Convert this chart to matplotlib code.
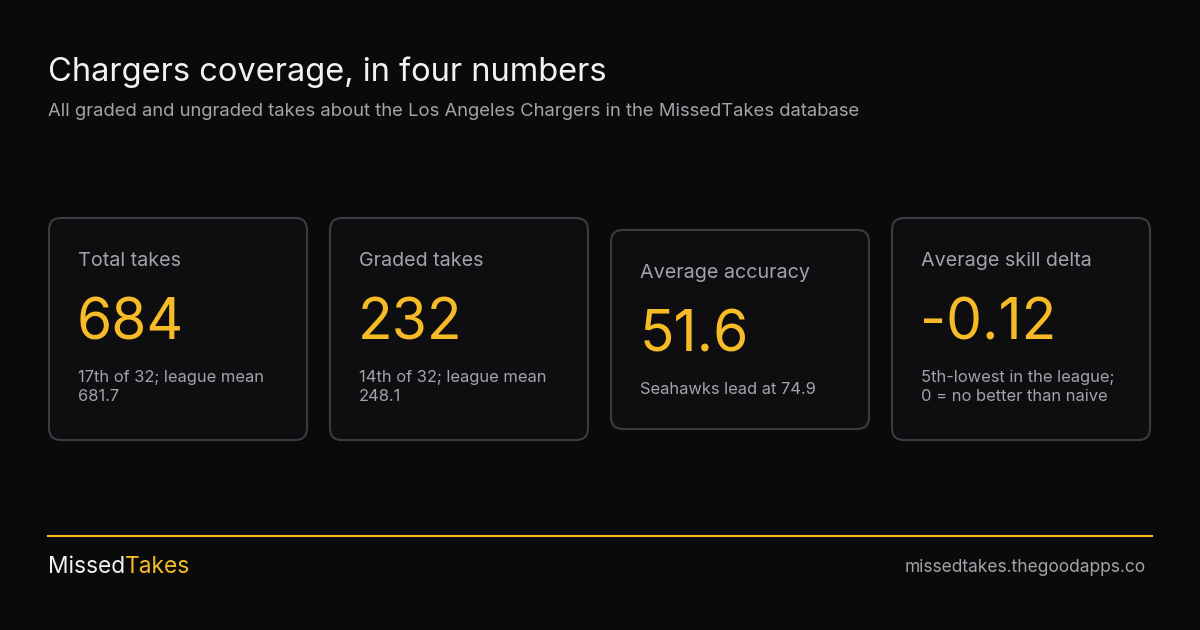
import matplotlib
matplotlib.use("Agg")
import matplotlib.pyplot as plt
from matplotlib.patches import FancyBboxPatch

plt.rcParams['font.family'] = ['Inter', 'DejaVu Sans']

title = "Chargers coverage, in four numbers"
subtitle = "All graded and ungraded takes about the Los Angeles Chargers in the MissedTakes database"
labels = ["Total takes", "Graded takes", "Average accuracy", "Average skill delta"]
values = ["684", "232", "51.6", "-0.12"]
notes = ["17th of 32; league mean\n681.7", "14th of 32; league mean\n248.1",
         "Seahawks lead at 74.9", "5th-lowest in the league;\n0 = no better than naive"]
two_line = [True, True, False, True]

W, H = 1200, 630
BG = "#0a0a0a"
ORANGE = "#f6bb26"
GRAY = "#a3a3ab"
fig = plt.figure(figsize=(12, 6.3), dpi=100, facecolor=BG)
ax = fig.add_axes([0, 0, 1, 1])
ax.set_xlim(0, W); ax.set_ylim(H, 0); ax.axis("off"); ax.set_facecolor(BG)

ax.text(48, 72, title, color="#f2f2f2", fontsize=23.5, va="center", ha="left")
ax.text(48, 111, subtitle, color=GRAY, fontsize=13.3, va="center", ha="left")

xs = [49, 330, 611, 892]
for i, (lab, val, note) in enumerate(zip(labels, values, notes)):
    x0 = xs[i]
    if two_line[i]:
        y0, y1 = 218, 440
    else:
        y0, y1 = 230, 429
    ax.add_patch(FancyBboxPatch((x0, y0), 258, y1 - y0,
                 boxstyle="round,pad=0,rounding_size=12",
                 facecolor="#0e0e10", edgecolor="#3b3b42", linewidth=1.5))
    ax.text(x0 + 29, y0 + 43, lab, color=GRAY, fontsize=14.2, va="center", ha="left")
    ax.text(x0 + 28, y0 + 107, val, color=ORANGE, fontsize=41, va="center", ha="left")
    ax.text(x0 + 29, y0 + 152 if two_line[i] else y0 + 160, note, color=GRAY, fontsize=11.9,
            va="top" if two_line[i] else "center", ha="left", linespacing=1.3)

ax.plot([48, 1152], [536, 536], color=ORANGE, lw=1.5)
t = ax.text(48, 567, "Missed", color="#f2f2f2", fontsize=16.4, va="center", ha="left")
fig.canvas.draw()
bb = t.get_window_extent()
ax.text(48 + bb.width, 567, "Takes", color=ORANGE, fontsize=16.4, va="center", ha="left")
ax.text(1146, 567, "missedtakes.thegoodapps.co", color=GRAY, fontsize=12.5, va="center", ha="right")

fig.savefig("out.png", dpi=100, facecolor=BG)
